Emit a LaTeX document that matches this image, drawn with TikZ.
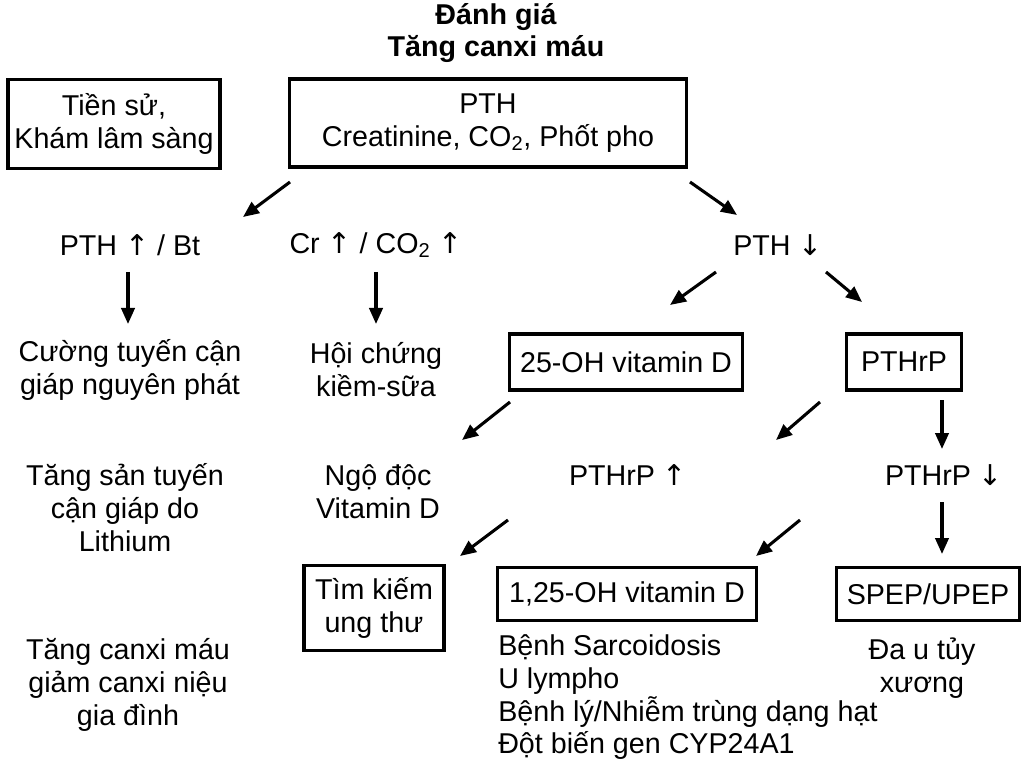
\documentclass[tikz,border=0pt]{standalone}
\usepackage{fontspec}
\setmainfont{Liberation Sans}
\newfontfamily\arrfont{DejaVu Sans}
\newcommand{\UA}{{\arrfont ↑}}
\newcommand{\DA}{{\arrfont ↓}}
\usetikzlibrary{arrows.meta}
\begin{document}
\begin{tikzpicture}[x=0.75pt,y=-0.75pt,
  every node/.style={font=\fontsize{21.5}{24.7}\selectfont,align=center,inner sep=0pt},
  box/.style={draw,line width=2.3pt,minimum height=42pt},
  arr/.style={line width=2.3pt,-{Triangle[length=12pt,width=10pt]}}]
\useasboundingbox (0,0) rectangle (1024,766);
\node[font=\fontsize{21.5}{23.5}\selectfont\bfseries] (title) at (496,33) {Đánh giá\\Tăng canxi máu};
\node[box,minimum width=159pt,minimum height=67pt] (hist) at (114,124) {Tiền sử,\\Khám lâm sàng};
\node[box,minimum width=298pt,minimum height=66pt] (pth) at (488,123) {PTH\\Creatinine, CO\textsubscript{2}, Phốt pho};
\node (pthup) at (130,245) {PTH \UA{} / Bt};
\node (cr) at (376,245) {Cr \UA{} / CO\textsubscript{2} \UA};
\node (pthdn) at (778,245) {PTH \DA};
\node (cuong) at (130,370) {Cường tuyến cận\\giáp nguyên phát};
\node (hoi) at (376,370) {Hội chứng\\kiềm-sữa};
\node[box,minimum width=175pt] (vd) at (626,362) {25-OH vitamin D};
\node[box,minimum width=86pt] (pthrp) at (904,362) {PTHrP};
\node (tang) at (125,508) {Tăng sản tuyến\\cận giáp do\\Lithium};
\node (ngo) at (378,492) {Ngộ độc\\Vitamin D};
\node (rpup) at (628,475) {PTHrP \UA};
\node (rpdn) at (944,475) {PTHrP \DA};
\node[box,minimum width=105pt,minimum height=64pt] (tim) at (374,608) {Tìm kiếm\\ung thư};
\node[box,minimum width=194pt,minimum height=40pt] (vd125) at (627,594) {1,25-OH vitamin D};
\node[box,minimum width=137pt,minimum height=40pt] (spep) at (928,594) {SPEP/UPEP};
\node (gd) at (128,685) {Tăng canxi máu\\giảm canxi niệu\\gia đình};
\node[align=left,anchor=north west] (list) at (498,634) {Bệnh Sarcoidosis\\U lympho\\Bệnh lý/Nhiễm trùng dạng hạt\\Đột biến gen CYP24A1};
\node (da) at (922,668) {Đa u tủy\\xương};
\foreach \n/\a/\b/\c/\d in {a1/290/182/243/217, a2/690/182/737/215, a3/128/272/128/324,
  a4/376/272/376/324, a5/716/272/670/305, a6/826/272/862/302, a7/510/402/462/440,
  a8/820/402/776/440, a9/942/400/942/449, a10/508/520/460/556, a11/800/520/756/556,
  a12/942/502/942/554}{
  \coordinate (\n s) at (\a,\b); \coordinate (\n e) at (\c,\d);
  \draw[arr] (\n s) -- (\n e);}
\end{tikzpicture}
\end{document}
